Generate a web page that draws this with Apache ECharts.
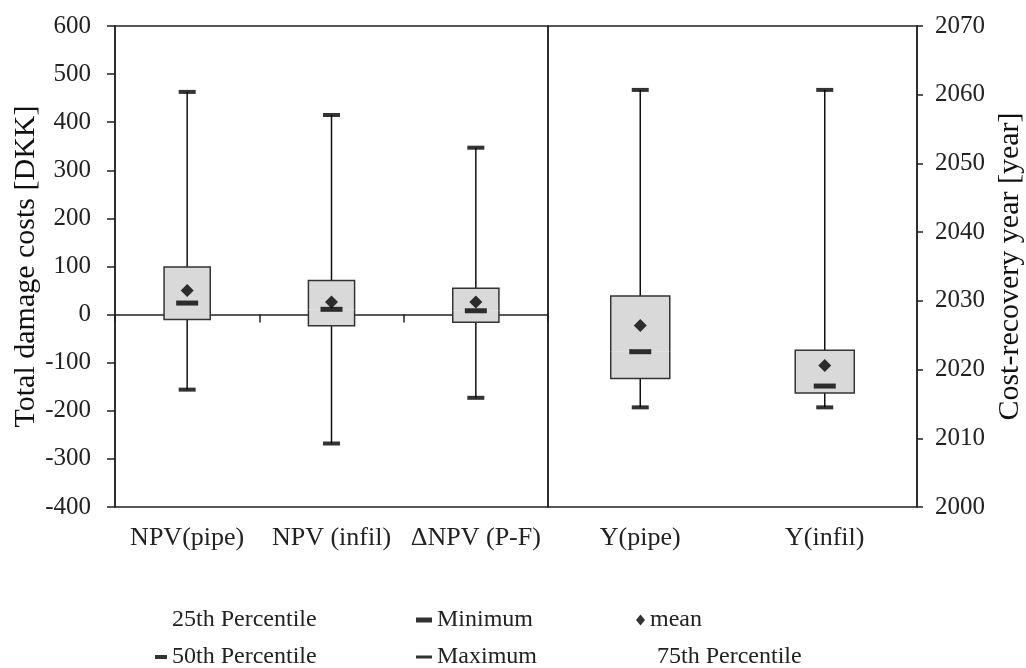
<!DOCTYPE html>
<html>
<head>
<meta charset="utf-8">
<title>Damage costs and cost-recovery year</title>
<script src="https://cdn.jsdelivr.net/npm/echarts@6/dist/echarts.min.js"></script>
<style>
    body { margin: 0; background: #fff; }
    #main { width: 1026px; height: 668px; }
</style>
</head>
<body>
<div id="main"></div>
<script>
// categories
var costNames = ['NPV(pipe)', 'NPV (infil)', '\u0394NPV (P-F)'];
var yearNames = ['Y(pipe)', 'Y(infil)'];

// left axis, total damage costs [DKK]
var costMin = [-156, -268, -173];
var costQ1 = [-10, -23, -16];
var costMedian = [24, 11, 8];
var costQ3 = [99, 71, 55];
var costMax = [463, 415, 347];
var costMean = [50, 26, 26];

// right axis, cost-recovery year
var yearMin = [2014.5, 2014.5];
var yearQ1 = [2018.7, 2016.6];
var yearMedian = [2022.6, 2017.6];
var yearQ3 = [2030.7, 2022.8];
var yearMax = [2060.7, 2060.7];
var yearMean = [2026.4, 2020.6];

var font = '"Liberation Serif", "Times New Roman", serif';
var ink = '#222';

// [index, min, q1, median, q3, max]
function boxRows(mn, q1, md, q3, mx) {
    var rows = [];
    for (var i = 0; i < mn.length; i++) {
        rows.push([i, mn[i], q1[i], md[i], q3[i], mx[i]]);
    }
    return rows;
}

// half of the box: lower = whisker min->q1 + box q1->median, upper = median->q3 + whisker q3->max
function halfBox(upper) {
    return function (params, api) {
        var i = api.value(0);
        var bw = api.size([1, 0])[0] * 0.32;
        var pMid = api.coord([i, api.value(3)]);
        var pEdge = api.coord([i, api.value(upper ? 4 : 2)]);
        var pEnd = api.coord([i, api.value(upper ? 5 : 1)]);
        var xl = pMid[0] - bw / 2, xr = pMid[0] + bw / 2;
        return {
            type: 'group',
            children: [{
                type: 'line',
                shape: { x1: pMid[0], y1: pEdge[1], x2: pMid[0], y2: pEnd[1] },
                style: { stroke: '#111', lineWidth: 1.5 }
            }, {
                type: 'rect',
                shape: { x: xl, y: Math.min(pMid[1], pEdge[1]), width: bw, height: Math.abs(pMid[1] - pEdge[1]) },
                style: { fill: '#d9d9d9' }
            }, {
                type: 'polyline',
                shape: { points: [[xl, pMid[1]], [xl, pEdge[1]], [xr, pEdge[1]], [xr, pMid[1]]] },
                style: { fill: null, stroke: '#333', lineWidth: 1.5 }
            }]
        };
    };
}

function seriesFor(g, mn, q1, md, q3, mx, mean) {
    var rows = boxRows(mn, q1, md, q3, mx);
    var ax = { xAxisIndex: g === 0 ? 0 : 2, yAxisIndex: g };
    return [
        Object.assign({ type: 'custom', name: '25th Percentile', renderItem: halfBox(false),
            encode: { x: 0, y: [1, 2, 3] }, data: rows }, ax),
        Object.assign({ type: 'custom', name: '75th Percentile', renderItem: halfBox(true),
            encode: { x: 0, y: [3, 4, 5] }, data: rows }, ax),
        Object.assign({ type: 'scatter', name: 'Minimum', symbol: 'rect', symbolSize: [17, 4],
            itemStyle: { color: '#000' }, data: mn }, ax),
        Object.assign({ type: 'scatter', name: 'Maximum', symbol: 'rect', symbolSize: [17, 4],
            itemStyle: { color: '#000' }, data: mx }, ax),
        Object.assign({ type: 'scatter', name: '50th Percentile', symbol: 'rect', symbolSize: [22, 5],
            itemStyle: { color: '#000' }, data: md }, ax),
        Object.assign({ type: 'scatter', name: 'mean', symbol: 'diamond', symbolSize: [13, 13],
            itemStyle: { color: '#000' }, data: mean }, ax)
    ];
}

function oneLegend(name, left, top, w, h, icon, visible) {
    return {
        data: [{ name: name, icon: icon, itemStyle: { color: visible ? '#000' : 'rgba(0,0,0,0)', borderWidth: 0 } }],
        left: left, top: top, padding: 0,
        itemWidth: w, itemHeight: h,
        selectedMode: false,
        textStyle: { fontFamily: font, fontSize: 24, color: ink }
    };
}

var labelStyle = { fontFamily: font, fontSize: 25, color: ink };
var catLabel = { interval: 0, margin: 18, fontFamily: font, fontSize: 26, color: ink };

var myChart = echarts.init(document.getElementById('main'));
var option = {
    animation: false,
    backgroundColor: '#fff',
    grid: [
        { left: 115, right: 478, top: 26, bottom: 161, show: true, borderColor: ink, borderWidth: 1.5 },
        { left: 548, right: 107, top: 26, bottom: 161, show: true, borderColor: ink, borderWidth: 1.5 }
    ],
    xAxis: [{
        gridIndex: 0, type: 'category', data: costNames, position: 'bottom',
        axisLine: { show: false, onZero: false }, axisTick: { show: false },
        axisLabel: catLabel
    }, {
        // zero line with the category ticks
        gridIndex: 0, type: 'category', data: costNames, position: 'top',
        axisLine: { show: true, onZero: true, lineStyle: { color: ink, width: 1.5 } },
        axisTick: { show: true, inside: true, length: 8, lineStyle: { color: ink, width: 1.5 } },
        axisLabel: { show: false }
    }, {
        gridIndex: 1, type: 'category', data: yearNames, position: 'bottom',
        axisLine: { show: false, onZero: false }, axisTick: { show: false },
        axisLabel: catLabel
    }],
    yAxis: [{
        gridIndex: 0, type: 'value', position: 'left',
        min: -400, max: 600, interval: 100,
        name: 'Total damage costs [DKK]', nameLocation: 'middle', nameRotate: 90, nameGap: 72,
        nameTextStyle: { fontFamily: font, fontSize: 30, color: '#111' },
        axisLine: { show: true, lineStyle: { color: ink, width: 1.5 } },
        axisTick: { show: true, length: 8, lineStyle: { color: ink, width: 1.5 } },
        axisLabel: Object.assign({ margin: 24 }, labelStyle),
        splitLine: { show: false }
    }, {
        gridIndex: 1, type: 'value', position: 'right',
        min: 2000, max: 2070, interval: 10,
        name: 'Cost-recovery year [year]', nameLocation: 'middle', nameRotate: 90, nameGap: 78,
        nameTextStyle: { fontFamily: font, fontSize: 30, color: '#111' },
        axisLine: { show: true, lineStyle: { color: ink, width: 1.5 } },
        axisTick: { show: true, length: 6, lineStyle: { color: ink, width: 1.5 } },
        axisLabel: Object.assign({ margin: 18, formatter: function (v) { return String(v); } }, labelStyle),
        splitLine: { show: false }
    }],
    legend: [
        oneLegend('25th Percentile', 155, 608, 12, 4, 'rect', false),
        oneLegend('50th Percentile', 155, 645, 12, 4, 'rect', true),
        oneLegend('Minimum', 416, 608, 16, 5, 'rect', true),
        oneLegend('Maximum', 416, 645, 16, 3, 'rect', true),
        oneLegend('mean', 636, 608, 9, 11, 'diamond', true),
        oneLegend('75th Percentile', 642, 645, 10, 4, 'rect', false)
    ],
    series: seriesFor(0, costMin, costQ1, costMedian, costQ3, costMax, costMean)
        .concat(seriesFor(1, yearMin, yearQ1, yearMedian, yearQ3, yearMax, yearMean))
};
myChart.setOption(option);
</script>
</body>
</html>
